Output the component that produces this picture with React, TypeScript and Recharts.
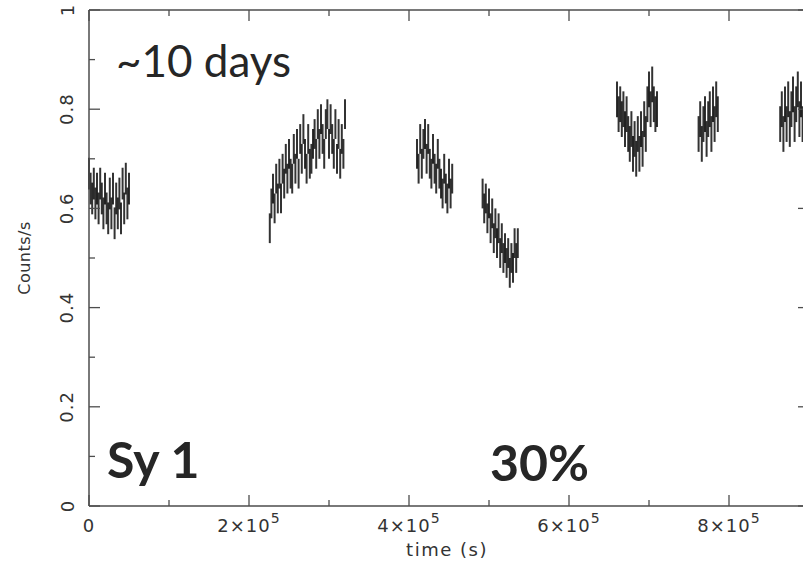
import { ComposedChart, Scatter, ErrorBar, XAxis, YAxis } from 'recharts'

// binned light curve, 2 ks bins, seven observing windows
const BIN = 2000
const segStarts = [0, 226000, 410000, 492000, 660000, 762000, 864000]
const seg1 = [0.67, 0.64, 0.62, 0.65, 0.61, 0.64, 0.6, 0.65, 0.62, 0.59, 0.64, 0.6, 0.58, 0.63, 0.59, 0.64, 0.57, 0.62, 0.59, 0.63, 0.58, 0.65, 0.6, 0.66, 0.61, 0.64]
const seg2 = [
  0.56, 0.61, 0.64, 0.6, 0.66, 0.62, 0.67, 0.62, 0.68, 0.65, 0.7, 0.66, 0.71, 0.67, 0.66, 0.72,
  0.68, 0.73, 0.67, 0.74, 0.7, 0.76, 0.71, 0.68, 0.74, 0.69, 0.7, 0.73, 0.75, 0.71, 0.77, 0.73,
  0.78, 0.74, 0.71, 0.77, 0.79, 0.73, 0.78, 0.74, 0.71, 0.77, 0.7, 0.75, 0.69, 0.74, 0.71, 0.79,
]
const seg3 = [0.71, 0.68, 0.74, 0.69, 0.73, 0.75, 0.7, 0.74, 0.69, 0.67, 0.72, 0.68, 0.66, 0.71, 0.67, 0.65, 0.63, 0.68, 0.64, 0.62, 0.67, 0.63, 0.66]
const seg4 = [0.63, 0.6, 0.62, 0.58, 0.61, 0.56, 0.59, 0.54, 0.57, 0.53, 0.56, 0.51, 0.54, 0.5, 0.52, 0.49, 0.51, 0.47, 0.5, 0.48, 0.53, 0.5, 0.53]
const seg5 = [0.82, 0.79, 0.81, 0.78, 0.8, 0.76, 0.79, 0.75, 0.73, 0.76, 0.71, 0.74, 0.7, 0.75, 0.71, 0.76, 0.72, 0.78, 0.75, 0.81, 0.84, 0.8, 0.85, 0.81, 0.79, 0.8]
const seg6 = [0.75, 0.78, 0.73, 0.77, 0.79, 0.74, 0.78, 0.8, 0.75, 0.81, 0.77, 0.82, 0.79]
const seg7 = [0.77, 0.8, 0.75, 0.81, 0.77, 0.82, 0.76, 0.8, 0.83, 0.77, 0.81, 0.84, 0.78, 0.82, 0.77, 0.81]
const segErr = [0.032, 0.03, 0.03, 0.03, 0.036, 0.036, 0.036]

const xTicks = [0, 100000, 200000, 300000, 400000, 500000, 600000, 700000, 800000, 900000]
const yTicks = [0, 0.1, 0.2, 0.3, 0.4, 0.5, 0.6, 0.7, 0.8, 0.9, 1]

const points = [seg1, seg2, seg3, seg4, seg5, seg6, seg7].flatMap((vals, s) =>
  vals.map((v, i) => ({ t: segStarts[s] + i * BIN, v, err: segErr[s] }))
)

const AXIS = '#4d4d4d'
const TICK_FONT = '"DejaVu Sans", sans-serif'

const isMajorX = (v: number) => Math.round(v / 100000) % 2 === 0
const isMajorY = (v: number) => Math.round(v * 10) % 2 === 0

function BottomTick({ x, y, payload }: any) {
  const n = Math.round(payload.value / 100000)
  const major = isMajorX(payload.value)
  return (
    <g>
      <line x1={x} x2={x} y1={y} y2={y - (major ? 11 : 6)} stroke={AXIS} strokeWidth={1.3} />
      {major && (
        <text x={x} y={y + 26} textAnchor="middle" fontFamily={TICK_FONT} fontSize={18} fill="#333" letterSpacing={1}>
          {n === 0 ? '0' : `${n}×10`}
          {n !== 0 && <tspan dy={-9} fontSize={14}>5</tspan>}
        </text>
      )}
    </g>
  )
}

function TopTick({ x, y, payload }: any) {
  const major = isMajorX(payload.value)
  return <line x1={x} x2={x} y1={y} y2={y + (major ? 11 : 6)} stroke={AXIS} strokeWidth={1.3} />
}

function LeftTick({ x, y, payload }: any) {
  const v = payload.value
  const major = isMajorY(v)
  const label = v === 0 ? '0' : v === 1 ? '1' : v.toFixed(1)
  return (
    <g>
      <line x1={x} x2={x + (major ? 11 : 6)} y1={y} y2={y} stroke={AXIS} strokeWidth={1.3} />
      {major && (
        <text
          x={67}
          y={y}
          transform={`rotate(-90, 67, ${y})`}
          textAnchor="middle"
          dominantBaseline="central"
          fontFamily={TICK_FONT}
          fontSize={18}
          fill="#333"
          letterSpacing={1}
        >
          {label}
        </text>
      )}
    </g>
  )
}

function RightTick({ x, y, payload }: any) {
  const major = isMajorY(payload.value)
  return <line x1={x} x2={x - (major ? 11 : 6)} y1={y} y2={y} stroke={AXIS} strokeWidth={1.3} />
}

const noDot = () => <g />

const axisCommon = {
  type: 'number' as const,
  interval: 0 as const,
  allowDataOverflow: true,
  tickSize: 0,
  tickMargin: 0,
  tickLine: false,
  axisLine: { stroke: AXIS, strokeWidth: 1.5 },
}

export default function App() {
  return (
    <div style={{ position: 'absolute', left: 0, top: 0, width: 803, height: 561, overflow: 'hidden', background: '#fff' }}>
      <ComposedChart width={830} height={561} data={points} margin={{ top: 9, right: 20, bottom: 54, left: 88 }}>
        <XAxis {...axisCommon} xAxisId="b" dataKey="t" domain={[0, 900000]} ticks={xTicks} height={1} tick={<BottomTick />} />
        <XAxis {...axisCommon} xAxisId="t" orientation="top" dataKey="t" domain={[0, 900000]} ticks={xTicks} height={1} tick={<TopTick />} />
        <YAxis {...axisCommon} yAxisId="l" dataKey="v" domain={[0, 1]} ticks={yTicks} width={1} tick={<LeftTick />} />
        <YAxis {...axisCommon} yAxisId="r" orientation="right" dataKey="v" domain={[0, 1]} ticks={yTicks} width={1} tick={<RightTick />} />
        <Scatter xAxisId="b" yAxisId="l" dataKey="v" shape={noDot} isAnimationActive={false}>
          <ErrorBar dataKey="err" direction="y" width={0} stroke="#000" strokeWidth={2} strokeOpacity={0.8} isAnimationActive={false} />
        </Scatter>
      </ComposedChart>
      <svg width={803} height={561} style={{ position: 'absolute', left: 0, top: 0, pointerEvents: 'none' }}>
        <text x={24} y={258} transform="rotate(-90, 24, 258)" textAnchor="middle" dominantBaseline="central" fontFamily={TICK_FONT} fontSize={16} fill="#333" letterSpacing={0.5}>
          Counts/s
        </text>
        <text x={447} y={556} textAnchor="middle" fontFamily={TICK_FONT} fontSize={18} fill="#333" letterSpacing={1.5}>
          time (s)
        </text>
        <text x={116} y={77} fontFamily="Lato, sans-serif" fontSize={44} fill="#262626">
          ~10 days
        </text>
        <text x={107} y={478} fontFamily="Lato, sans-serif" fontWeight={700} fontSize={50} fill="#262626">
          Sy 1
        </text>
        <text x={490} y={481} fontFamily="Lato, sans-serif" fontWeight={700} fontSize={50} fill="#262626">
          30%
        </text>
      </svg>
    </div>
  )
}
